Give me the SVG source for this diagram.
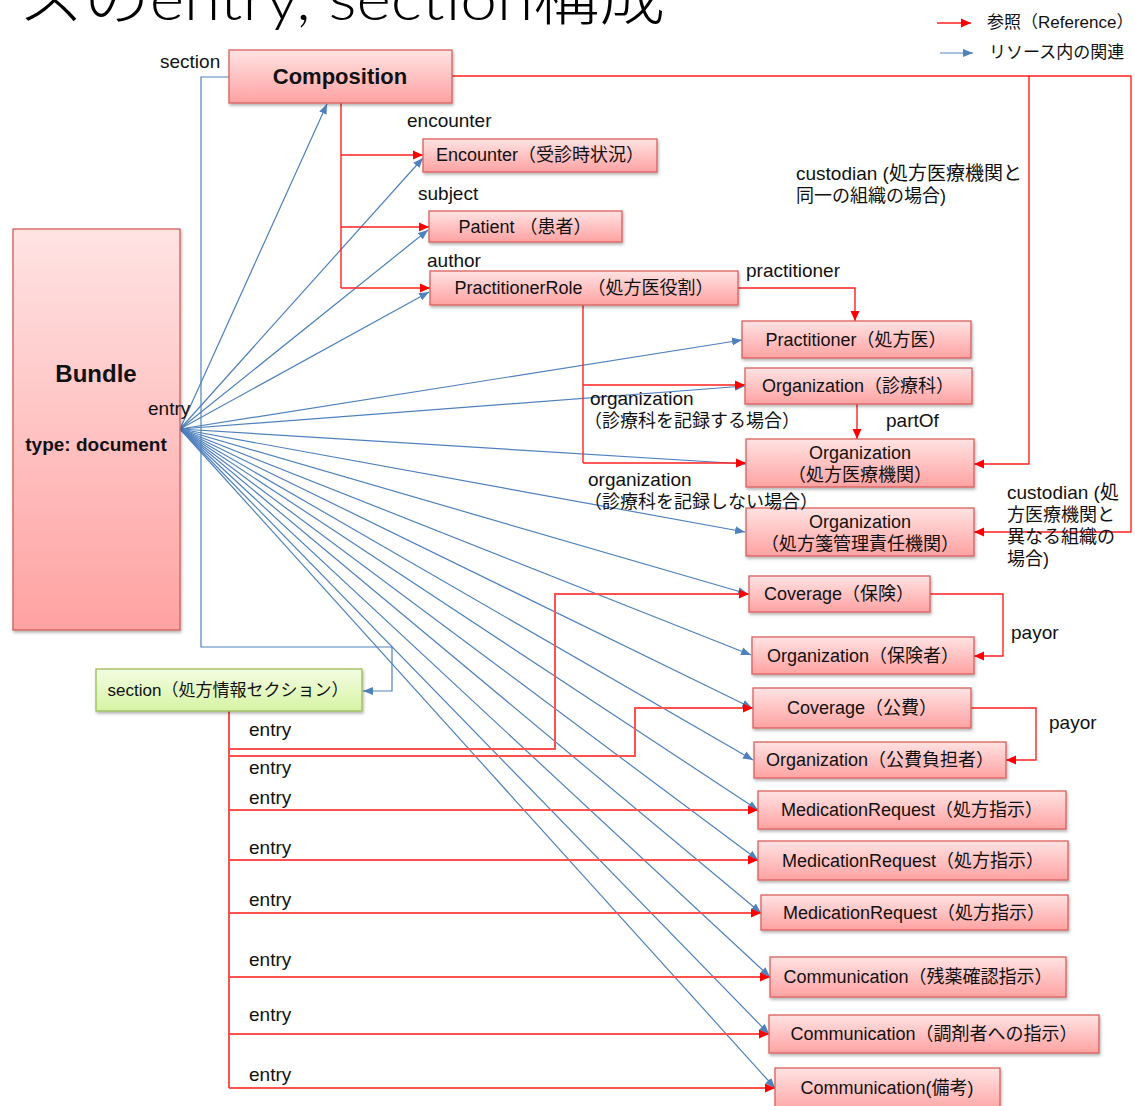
<svg xmlns="http://www.w3.org/2000/svg" width="1135" height="1106" viewBox="0 0 1135 1106">
<style>
text{font-family:"Liberation Sans","Noto Sans CJK JP",sans-serif;fill:#111}
.t{font-size:18px;text-anchor:middle}
.l{font-size:19px}
.lc{font-size:18px}
.b{font-weight:bold;text-anchor:middle}
.title{font-family:"Lato","Noto Sans CJK JP",sans-serif;font-weight:300;font-size:60px;fill:#000}
.node{fill:url(#ng);stroke:#d9605e;stroke-width:1.3;filter:url(#sh)}
.red{fill:none;stroke:#ff2020;stroke-width:1.4;marker-end:url(#ra)}
.redn{fill:none;stroke:#ff2020;stroke-width:1.4}
.ent{fill:none;stroke:#ff5050;stroke-width:2;marker-end:url(#ra)}
.entn{fill:none;stroke:#ff5050;stroke-width:2}
.blue{fill:none;stroke:#4f81bd;stroke-width:1.2;marker-end:url(#ba)}
</style>
<defs>
<linearGradient id="ng" x1="0" y1="0" x2="0" y2="1"><stop offset="0" stop-color="#ffe3e3"/><stop offset="1" stop-color="#ffa2a2"/></linearGradient>
<linearGradient id="gg" x1="0" y1="0" x2="0" y2="1"><stop offset="0" stop-color="#f4fce2"/><stop offset="1" stop-color="#d6f4a4"/></linearGradient>
<filter id="sh" x="-10%" y="-10%" width="130%" height="140%"><feDropShadow dx="1" dy="2" stdDeviation="1.5" flood-color="#000" flood-opacity="0.3"/></filter>
<marker id="ra" markerUnits="userSpaceOnUse" markerWidth="10" markerHeight="10" refX="10" refY="5" orient="auto"><path d="M0,0.5 L10,5 L0,9.5 z" fill="#ff0000"/></marker>
<marker id="ba" markerUnits="userSpaceOnUse" markerWidth="10" markerHeight="9" refX="10" refY="4.5" orient="auto"><path d="M0,0.5 L10,4.5 L0,8.5 z" fill="#4f81bd"/></marker>
</defs>
<rect width="1135" height="1106" fill="#fff"/>

<text class="title" x="18" y="20" textLength="647" lengthAdjust="spacingAndGlyphs">スのentry, section構成</text>

<g id="legend">
<line x1="937" y1="23" x2="971" y2="23" class="red"/>
<text x="987" y="28" style="font-size:17px">参照（Reference）</text>
<line x1="940" y1="53" x2="973" y2="53" class="blue"/>
<text x="989" y="58" style="font-size:17px">リソース内の関連</text>
</g>

<g id="connectors">
<path class="blue" d="M180,429 L327,104"/>
<path class="blue" d="M180,429 L423,158"/>
<path class="blue" d="M180,429 L428,230"/>
<path class="blue" d="M180,429 L429,292"/>
<path class="blue" d="M180,429 L742,340"/>
<path class="blue" d="M180,429 L745,386"/>
<path class="blue" d="M180,429 L746,464"/>
<path class="blue" d="M180,429 L745,532"/>
<path class="blue" d="M180,429 L748,594"/>
<path class="blue" d="M180,429 L751,655"/>
<path class="blue" d="M180,429 L752,708"/>
<path class="blue" d="M180,429 L753,760"/>
<path class="blue" d="M180,429 L758,810"/>
<path class="blue" d="M180,429 L758,860"/>
<path class="blue" d="M180,429 L761,913"/>
<path class="blue" d="M180,429 L770,977"/>
<path class="blue" d="M180,429 L769,1034"/>
<path class="blue" d="M180,429 L775,1088"/>
<path class="blue" d="M229,77 H201 V647 H392 V691 H363"/>
<path class="redn" d="M341,103 V288"/>
<path class="red" d="M341,155 H423"/>
<path class="red" d="M341,227 H429"/>
<path class="red" d="M341,288 H430"/>
<path class="red" d="M452,76 H1131 V532 H974"/>
<path class="red" d="M1029,76 V464 H974"/>
<path class="red" d="M738,288 H855 V321"/>
<path class="redn" d="M583,305 V463"/>
<path class="red" d="M583,385 H745"/>
<path class="red" d="M583,463 H746"/>
<path class="red" d="M857,404 V439"/>
<path class="red" d="M930,594 H1003 V656 H974"/>
<path class="red" d="M971,708 H1036 V760 H1006"/>
<path class="entn" d="M229,711 V1088"/>
<path class="ent" d="M229,749 H555 V594 H749"/>
<path class="ent" d="M229,756 H635 V708 H753"/>
<path class="ent" d="M229,810 H758"/>
<path class="ent" d="M229,860 H758"/>
<path class="ent" d="M229,913 H761"/>
<path class="ent" d="M229,977 H770"/>
<path class="ent" d="M229,1034 H769"/>
<path class="ent" d="M229,1088 H775"/>
</g>

<g id="bundle">
<rect x="13" y="229" width="167" height="401" fill="url(#ng)" stroke="#d0605c" stroke-width="1.3" filter="url(#sh)"/>
<text class="b" x="96" y="382" style="font-size:24px">Bundle</text>
<text class="b" x="96" y="451" style="font-size:19px">type: document</text>
</g>
<g id="composition">
<rect class="node" x="229" y="50" width="223" height="53"/>
<text class="b" x="340" y="84" style="font-size:22px">Composition</text>
</g>
<g id="encounter"><rect class="node" x="423" y="139" width="234" height="33"/><text class="t" x="540" y="161">Encounter（受診時状況）</text></g>
<g id="patient"><rect class="node" x="429" y="211" width="193" height="31"/><text class="t" x="525" y="233">Patient （患者）</text></g>
<g id="practitionerrole"><rect class="node" x="430" y="271" width="308" height="34"/><text class="t" x="584" y="294">PractitionerRole （処方医役割）</text></g>
<g id="practitioner"><rect class="node" x="742" y="321" width="229" height="37"/><text class="t" x="856" y="346">Practitioner（処方医）</text></g>
<g id="org-dept"><rect class="node" x="745" y="368" width="227" height="36"/><text class="t" x="858" y="392">Organization（診療科）</text></g>
<g id="org-hospital"><rect class="node" x="746" y="439" width="228" height="48"/><text class="t" x="860" y="459">Organization</text><text class="t" x="860" y="481">（処方医療機関）</text></g>
<g id="org-custodian"><rect class="node" x="746" y="508" width="228" height="48"/><text class="t" x="860" y="528">Organization</text><text class="t" x="860" y="550">（処方箋管理責任機関）</text></g>
<g id="coverage-ins"><rect class="node" x="749" y="576" width="181" height="36"/><text class="t" x="839" y="600">Coverage（保険）</text></g>
<g id="org-insurer"><rect class="node" x="752" y="637" width="222" height="37"/><text class="t" x="863" y="662">Organization（保険者）</text></g>
<g id="coverage-public"><rect class="node" x="753" y="688" width="218" height="40"/><text class="t" x="862" y="714">Coverage（公費）</text></g>
<g id="org-public"><rect class="node" x="754" y="742" width="252" height="36"/><text class="t" x="880" y="766">Organization（公費負担者）</text></g>
<g id="medreq1"><rect class="node" x="758" y="791" width="308" height="38"/><text class="t" x="912" y="816">MedicationRequest（処方指示）</text></g>
<g id="medreq2"><rect class="node" x="758" y="841" width="310" height="39"/><text class="t" x="913" y="867">MedicationRequest（処方指示）</text></g>
<g id="medreq3"><rect class="node" x="761" y="895" width="307" height="35"/><text class="t" x="914" y="919">MedicationRequest（処方指示）</text></g>
<g id="comm1"><rect class="node" x="770" y="957" width="296" height="40"/><text class="t" x="918" y="983">Communication（残薬確認指示）</text></g>
<g id="comm2"><rect class="node" x="769" y="1015" width="330" height="38"/><text class="t" x="934" y="1040">Communication（調剤者への指示）</text></g>
<g id="comm3"><rect class="node" x="775" y="1068" width="225" height="45"/><text class="t" x="887" y="1094">Communication(備考)</text></g>
<g id="section"><rect x="96" y="669" width="266" height="42" fill="url(#gg)" stroke="#9bbb59" stroke-width="1.3" filter="url(#sh)"/><text class="t" x="228" y="696" style="font-size:17px">section（処方情報セクション）</text></g>

<g id="labels">
<text class="l" x="160" y="68">section</text>
<text class="l" x="148" y="415">entry</text>
<text class="l" x="407" y="127">encounter</text>
<text class="l" x="418" y="200">subject</text>
<text class="l" x="427" y="267">author</text>
<text class="l" x="746" y="277">practitioner</text>
<text class="l" x="796" y="180">custodian (処方医療機関と</text>
<text class="lc" x="796" y="202">同一の組織の場合)</text>
<text class="l" x="590" y="405">organization</text>
<text class="lc" x="584" y="427">（診療科を記録する場合）</text>
<text class="l" x="886" y="427">partOf</text>
<text class="l" x="588" y="486">organization</text>
<text class="lc" x="584" y="508">（診療科を記録しない場合）</text>
<text class="l" x="1007" y="499">custodian (処</text>
<text class="lc" x="1007" y="521">方医療機関と</text>
<text class="lc" x="1007" y="543">異なる組織の</text>
<text class="lc" x="1007" y="565">場合)</text>
<text class="l" x="1011" y="639">payor</text>
<text class="l" x="1049" y="729">payor</text>
<text class="l" x="249" y="736">entry</text>
<text class="l" x="249" y="774">entry</text>
<text class="l" x="249" y="804">entry</text>
<text class="l" x="249" y="854">entry</text>
<text class="l" x="249" y="906">entry</text>
<text class="l" x="249" y="966">entry</text>
<text class="l" x="249" y="1021">entry</text>
<text class="l" x="249" y="1081">entry</text>
</g>
</svg>
